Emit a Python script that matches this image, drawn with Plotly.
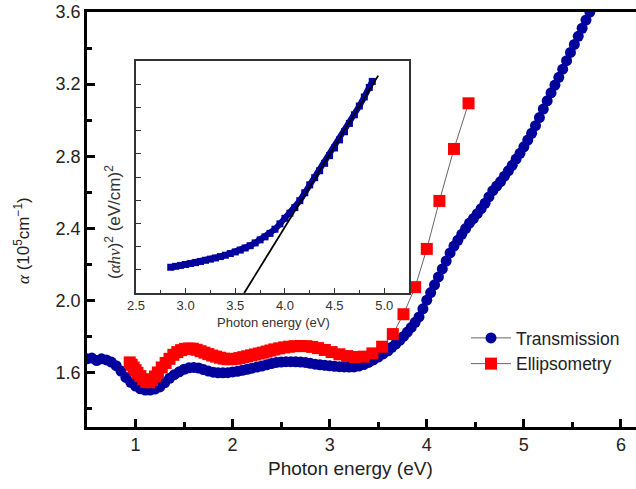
import plotly.graph_objects as go

# ---- Main plot: Transmission (alpha, 10^5 cm^-1) ----
trans_x = [0.50, 0.55, 0.60, 0.65, 0.70, 0.75, 0.80, 0.85, 0.90, 0.95,
           1.00, 1.05, 1.10, 1.15, 1.20, 1.25, 1.30, 1.35, 1.40, 1.45,
           1.50, 1.55, 1.60, 1.65, 1.70, 1.75, 1.80, 1.85, 1.90, 1.95,
           2.00, 2.05, 2.10, 2.15, 2.20, 2.25, 2.30, 2.35, 2.40, 2.45,
           2.50, 2.55, 2.60, 2.65, 2.70, 2.75, 2.80, 2.85, 2.90, 2.95,
           3.00, 3.05, 3.10, 3.15, 3.20, 3.25, 3.30, 3.35, 3.40, 3.45,
           3.50, 3.55, 3.60, 3.64, 3.68, 3.72, 3.76, 3.80, 3.84, 3.88,
           3.92, 3.96, 4.00, 4.04, 4.08, 4.12, 4.16, 4.20, 4.24, 4.28,
           4.32, 4.36, 4.40, 4.44, 4.48, 4.52, 4.56, 4.60, 4.64, 4.68,
           4.72, 4.76, 4.80, 4.84, 4.88, 4.92, 4.96, 5.00, 5.04, 5.08,
           5.12, 5.16, 5.20, 5.24, 5.28, 5.32, 5.36, 5.40, 5.44, 5.48,
           5.52, 5.56, 5.60, 5.64, 5.68]
trans_y = [1.678, 1.682, 1.668, 1.678, 1.672, 1.660, 1.640, 1.610, 1.575, 1.548,
           1.527, 1.512, 1.505, 1.505, 1.510, 1.522, 1.545, 1.570, 1.590, 1.606,
           1.620, 1.628, 1.630, 1.627, 1.618, 1.610, 1.604, 1.600, 1.600, 1.601,
           1.605, 1.609, 1.614, 1.620, 1.626, 1.632, 1.638, 1.645, 1.652, 1.658,
           1.660, 1.662, 1.662, 1.661, 1.660, 1.658, 1.653, 1.648, 1.645, 1.642,
           1.639, 1.636, 1.634, 1.633, 1.632, 1.633, 1.638, 1.646, 1.658, 1.672,
           1.688, 1.705, 1.722, 1.742, 1.760, 1.780, 1.802, 1.826, 1.852, 1.880,
           1.910, 1.955, 2.003, 2.045, 2.088, 2.132, 2.176, 2.220, 2.265, 2.303,
           2.335, 2.368, 2.400, 2.430, 2.455, 2.482, 2.510, 2.540, 2.575, 2.610,
           2.635, 2.660, 2.690, 2.720, 2.750, 2.785, 2.817, 2.853, 2.890, 2.928,
           2.970, 3.015, 3.062, 3.108, 3.152, 3.195, 3.238, 3.283, 3.330, 3.376,
           3.420, 3.465, 3.510, 3.555, 3.600]

# ---- Main plot: Ellipsometry ----
ellip_x = [0.94, 0.96, 0.98, 1.00, 1.02, 1.05, 1.08, 1.11, 1.14, 1.17,
           1.20, 1.23, 1.27, 1.31, 1.35, 1.39, 1.43, 1.47, 1.51, 1.55,
           1.59, 1.63, 1.67, 1.71, 1.75, 1.79, 1.83, 1.87, 1.91, 1.95,
           1.99, 2.03, 2.07, 2.11, 2.15, 2.19, 2.23, 2.27, 2.31, 2.35,
           2.39, 2.43, 2.48, 2.53, 2.58, 2.64, 2.70, 2.76, 2.82, 2.88,
           2.95, 3.02, 3.10, 3.18, 3.26, 3.35, 3.44, 3.54, 3.65, 3.76,
           3.88, 4.00, 4.13, 4.28, 4.43]
ellip_y = [1.658, 1.645, 1.630, 1.615, 1.600, 1.582, 1.565, 1.550, 1.548, 1.560,
           1.580, 1.602, 1.630, 1.655, 1.678, 1.700, 1.715, 1.726, 1.733, 1.735,
           1.734, 1.728, 1.720, 1.712, 1.704, 1.696, 1.690, 1.684, 1.679, 1.676,
           1.676, 1.678, 1.682, 1.687, 1.692, 1.697, 1.702, 1.707, 1.712, 1.718,
           1.724, 1.730, 1.736, 1.741, 1.745, 1.748, 1.749, 1.748, 1.744, 1.737,
           1.727, 1.715, 1.703, 1.693, 1.688, 1.690, 1.708, 1.745, 1.815, 1.925,
           2.075, 2.287, 2.553, 2.841, 3.094]

# ---- Inset: (alpha h nu)^2 (arb. units) ----
inset_x = [2.85, 2.90, 2.95, 3.00, 3.05, 3.10, 3.15, 3.20, 3.25, 3.30,
           3.35, 3.40, 3.45, 3.50, 3.55, 3.60, 3.65, 3.70, 3.75, 3.80,
           3.85, 3.90, 3.95, 4.00, 4.05, 4.10, 4.15, 4.20, 4.25, 4.30,
           4.35, 4.40, 4.45, 4.50, 4.55, 4.60, 4.65, 4.70, 4.75, 4.80,
           4.85, 4.88]
inset_y = [1.11, 1.15, 1.19, 1.23, 1.27, 1.31, 1.36, 1.41, 1.46, 1.51,
           1.57, 1.63, 1.70, 1.77, 1.85, 1.94, 2.04, 2.16, 2.29, 2.42,
           2.57, 2.75, 2.98, 3.22, 3.44, 3.68, 3.98, 4.32, 4.66, 4.97,
           5.27, 5.59, 5.92, 6.25, 6.60, 6.95, 7.31, 7.68, 8.06, 8.45,
           8.86, 9.12]
fit_x = [3.59, 4.94]
fit_y = [0.0, 9.37]

BLUE = "#00009c"
RED = "#ff0000"
FONT = "Arial, Liberation Sans, sans-serif"
SERIF = "'Liberation Serif', 'Times New Roman', serif"

fig = go.Figure()

fig.add_trace(go.Scatter(
    x=trans_x, y=trans_y, mode="lines+markers", name="Transmission",
    line=dict(color="#666666", width=1),
    marker=dict(symbol="circle", size=11, color=BLUE, line=dict(width=0)),
    xaxis="x", yaxis="y"))
fig.add_trace(go.Scatter(
    x=ellip_x, y=ellip_y, mode="lines+markers", name="Ellipsometry",
    line=dict(color="#666666", width=1),
    marker=dict(symbol="square", size=12, color=RED, line=dict(width=0)),
    xaxis="x", yaxis="y"))

fig.add_trace(go.Scatter(
    x=inset_x, y=inset_y, mode="lines+markers", showlegend=False,
    line=dict(color=BLUE, width=6),
    marker=dict(symbol="square", size=7, color=BLUE, line=dict(width=0)),
    xaxis="x2", yaxis="y2"))
fig.add_trace(go.Scatter(
    x=fit_x, y=fit_y, mode="lines", showlegend=False,
    line=dict(color="black", width=1.8),
    xaxis="x2", yaxis="y2"))

L, T, B = 87, 12, 62
W, H = 636, 489
pw = W - L
ph = H - T - B

def px2paper_x(px):
    return (px - L) / pw

def px2paper_y(py):
    return (H - B - py) / ph

fig.update_layout(
    width=W, height=H,
    margin=dict(l=L, r=0, t=T, b=B),
    paper_bgcolor="white", plot_bgcolor="white",
    font=dict(family=FONT, color="#222222"),
    xaxis=dict(range=[0.5, 6.155], domain=[0, 1], showline=True, linecolor="black",
               linewidth=2.5, mirror=True, ticks="inside", ticklen=8, tickwidth=2.5,
               tickcolor="black", dtick=1, tick0=0, showgrid=False, zeroline=False,
               tickfont=dict(size=18, color="#222222"),
               minor=dict(ticks="inside", ticklen=5, tickwidth=2.5, dtick=0.5,
                          tick0=0, tickcolor="black", showgrid=False)),
    yaxis=dict(range=[1.3, 3.6], domain=[0, 1], showline=True, linecolor="black",
               linewidth=2.5, mirror=False, ticks="inside", ticklen=8, tickwidth=2.5,
               tickcolor="black", tickvals=[1.6, 2.0, 2.4, 2.8, 3.2, 3.6],
               ticktext=["1.6", "2.0", "2.4", "2.8", "3.2", "3.6"],
               showgrid=False, zeroline=False,
               tickfont=dict(size=18, color="#222222"),
               minor=dict(ticks="inside", ticklen=5, tickwidth=2.5,
                          tickvals=[1.4, 1.8, 2.2, 2.6, 3.0, 3.4],
                          tickcolor="black", showgrid=False)),
    xaxis2=dict(range=[2.5, 5.25], domain=[px2paper_x(136), px2paper_x(409)],
                anchor="y2", showline=True, linecolor="#333333", linewidth=1.5,
                mirror=True, ticks="inside", ticklen=5, tickwidth=1.2,
                tickcolor="#333333", dtick=0.5, tick0=2.5, tickformat=".1f",
                showgrid=False, zeroline=False,
                tickfont=dict(size=13, color="#333333"),
                minor=dict(ticks="inside", ticklen=3, tickwidth=1.2, dtick=0.25,
                           tick0=2.5, tickcolor="#333333", showgrid=False)),
    yaxis2=dict(range=[0, 10], domain=[px2paper_y(293), px2paper_y(61)],
                anchor="x2", showline=True, linecolor="#333333", linewidth=1.5,
                mirror=True, ticks="inside", ticklen=5, tickwidth=1.2,
                tickcolor="#333333", dtick=1, showticklabels=False,
                showgrid=False, zeroline=False),
    legend=dict(x=px2paper_x(466), y=px2paper_y(320), xanchor="left", yanchor="top",
                bgcolor="rgba(0,0,0,0)", font=dict(size=17.5, color="#222222"),
                itemwidth=40, tracegroupgap=0),
    showlegend=True,
)

fig.add_annotation(text="Photon energy (eV)", xref="paper", yref="paper",
                   x=px2paper_x(350), y=px2paper_y(468), showarrow=False,
                   xanchor="center", yanchor="middle",
                   font=dict(size=19, color="#222222", family=FONT))
fig.add_annotation(
    text="<span style=\"font-family:" + SERIF + "\"><i>α</i></span> (10<sup>5</sup>cm<sup>−1</sup>)",
    xref="paper", yref="paper", x=px2paper_x(22), y=px2paper_y(241),
    showarrow=False, textangle=-90, xanchor="center", yanchor="middle",
    font=dict(size=17, color="#222222", family=FONT))
fig.add_annotation(text="Photon energy (eV)", xref="paper", yref="paper",
                   x=px2paper_x(273), y=px2paper_y(322), showarrow=False,
                   xanchor="center", yanchor="middle",
                   font=dict(size=13, color="#333333", family=FONT))
fig.add_annotation(
    text="(<span style=\"font-family:" + SERIF + "\"><i>αhν</i></span>)<sup>2</sup> (eV/cm)<sup>2</sup>",
    xref="paper", yref="paper", x=px2paper_x(113), y=px2paper_y(222),
    showarrow=False, textangle=-90, xanchor="center", yanchor="middle",
    font=dict(size=17, color="#333333", family=FONT))

fig.write_html("out.html", config={"displayModeBar": False},
               post_script="document.body.style.margin='0px';document.body.style.overflow='hidden';")
